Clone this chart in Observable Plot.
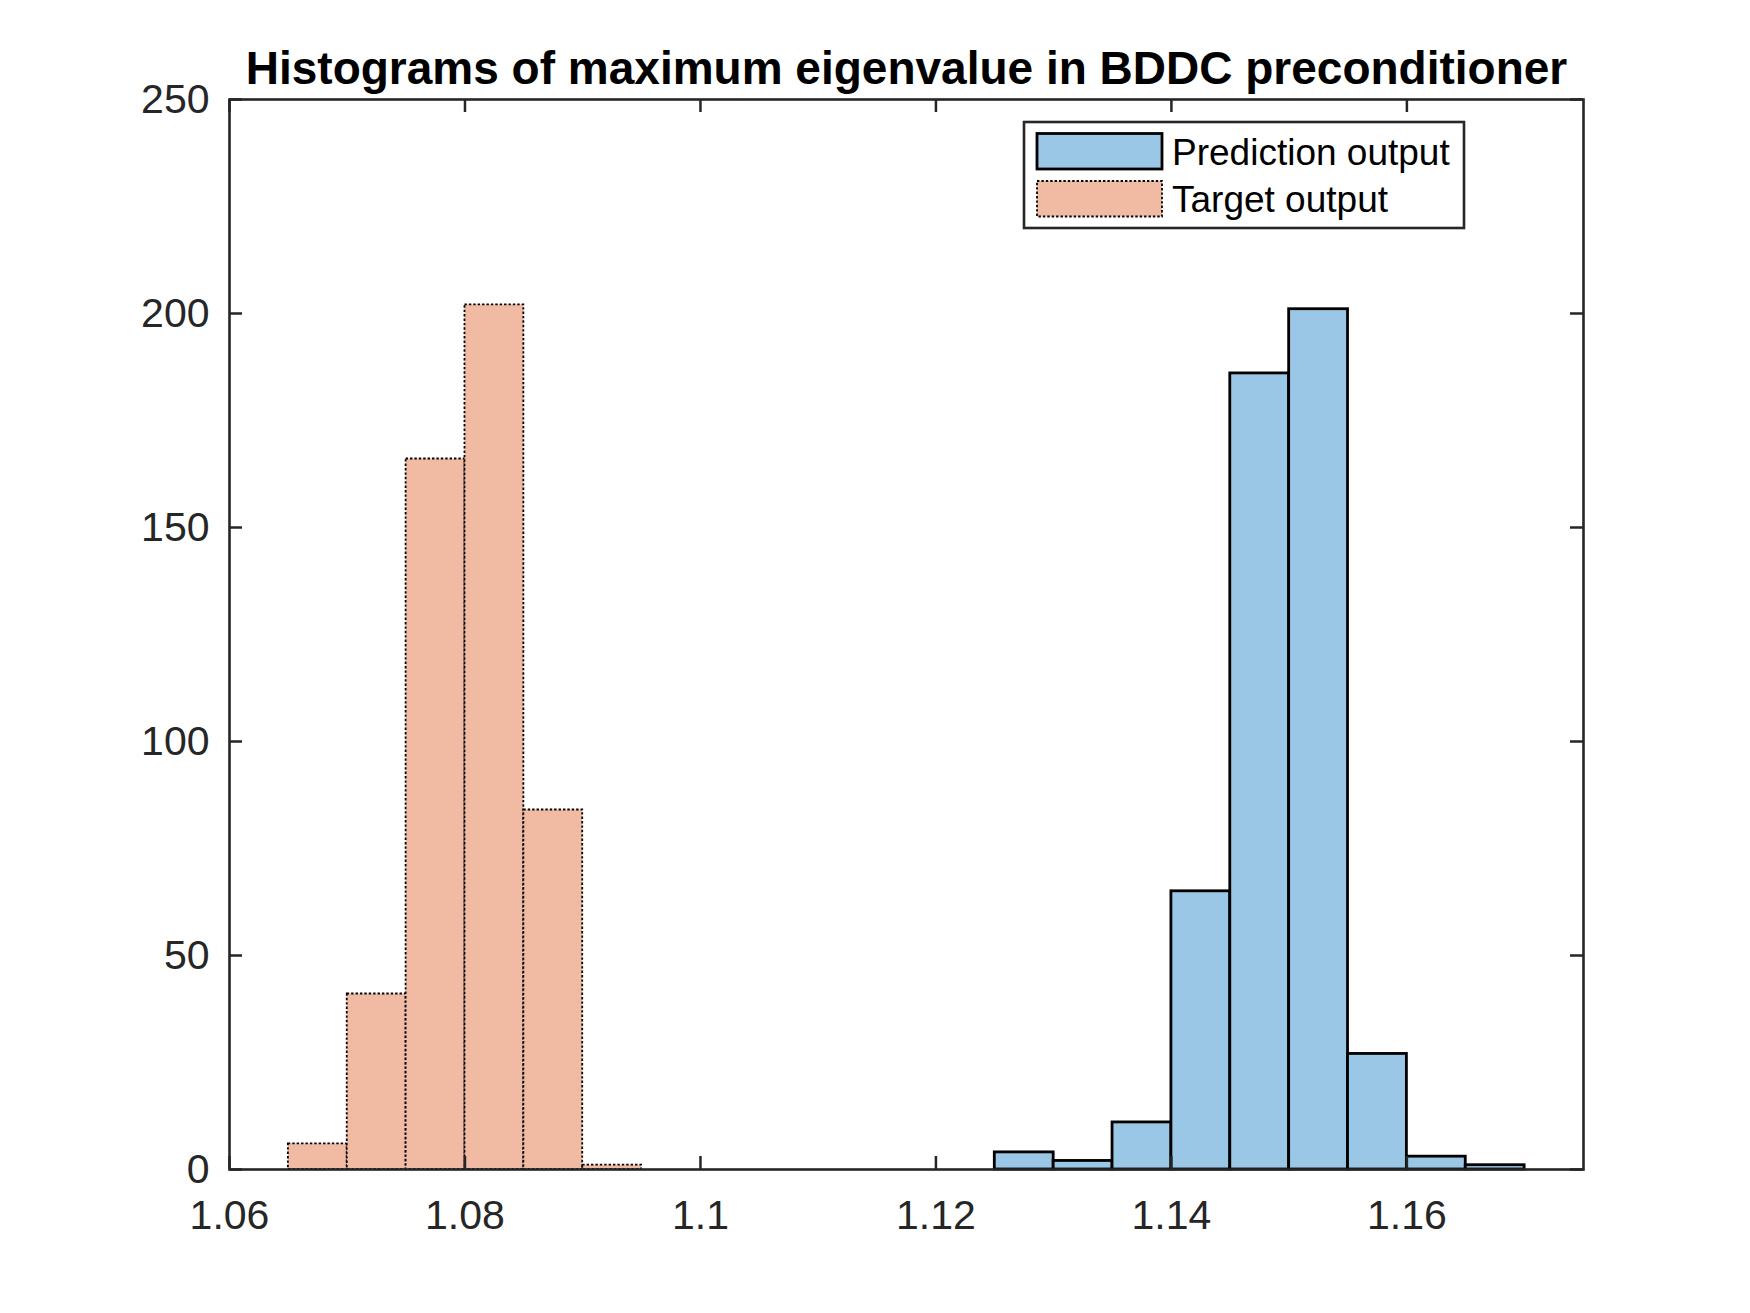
<!DOCTYPE html>
<html>
<head>
<meta charset="utf-8">
<script src="https://cdn.jsdelivr.net/npm/d3@7"></script>
<script src="https://cdn.jsdelivr.net/npm/@observablehq/plot@0.6"></script>
<style>
  html, body { margin: 0; padding: 0; background: #fff; }
  #wrap { position: relative; width: 1750px; height: 1313px; }
  #wrap svg { position: absolute; left: 0; top: 0; }
</style>
</head>
<body>
<div id="wrap"></div>
<script>
// ---- data ----
const titleText = "Histograms of maximum eigenvalue in BDDC preconditioner";
const seriesNames = ["Prediction output", "Target output"];
const predBinStarts = [1.125, 1.130, 1.135, 1.140, 1.145, 1.150, 1.155, 1.160, 1.165];
const predCounts    = [4, 2, 11, 65, 186, 201, 27, 3, 1];
const targetBinStarts = [1.065, 1.070, 1.075, 1.080, 1.085, 1.090];
const targetCounts    = [6, 41, 166, 202, 84, 1];
const binWidth = 0.005;
const xTicks = [1.06, 1.08, 1.10, 1.12, 1.14, 1.16];
const xTickLabels = ["1.06", "1.08", "1.1", "1.12", "1.14", "1.16"];
const yTicks = [0, 50, 100, 150, 200, 250];
const xDomain = [1.06, 1.175];
const yDomain = [0, 250];

// ---- styles ----
const blue = "#99C7E5";
const orange = "#F0BAA3";
const axisColor = "#262626";
const font = "'Liberation Sans', Arial, Helvetica, sans-serif";

const W = 1750, H = 1313;
const mL = 229, mR = 167, mT = 99, mB = 144;
const plotW = W - mL - mR, plotH = H - mT - mB;
const tickLen = 13;

const predRows = predBinStarts.map((s, i) => ({x1: s, x2: s + binWidth, y: predCounts[i]}));
const targetRows = targetBinStarts.map((s, i) => ({x1: s, x2: s + binWidth, y: targetCounts[i]}));

const chart = Plot.plot({
  width: W,
  height: H,
  marginLeft: mL, marginRight: mR, marginTop: mT, marginBottom: mB,
  style: {fontFamily: font, background: "#fff", color: axisColor},
  x: {domain: xDomain},
  y: {domain: yDomain},
  marks: [
    Plot.rectY(predRows, {x1: "x1", x2: "x2", y: "y", fill: blue, stroke: "#000", strokeWidth: 2.8}),
    Plot.rectY(targetRows, {x1: "x1", x2: "x2", y: "y", fill: orange, stroke: "#000", strokeWidth: 1.8, strokeDasharray: "2.4,2"}),
    // inward tick marks, all four sides
    Plot.tickX(xTicks, {x: d => d, insetTop: plotH - tickLen, stroke: axisColor, strokeWidth: 2.5}),
    Plot.tickX(xTicks, {x: d => d, insetBottom: plotH - tickLen, stroke: axisColor, strokeWidth: 2.5}),
    Plot.tickY(yTicks, {y: d => d, insetRight: plotW - tickLen, stroke: axisColor, strokeWidth: 2.5}),
    Plot.tickY(yTicks, {y: d => d, insetLeft: plotW - tickLen, stroke: axisColor, strokeWidth: 2.5}),
    Plot.frame({stroke: axisColor, strokeWidth: 2.6}),
    Plot.axisX({ticks: xTicks, tickSize: 0, tickPadding: 30, fontSize: 41, fill: axisColor,
      tickFormat: d => xTickLabels[xTicks.indexOf(d)], label: null}),
    Plot.axisY({ticks: yTicks, tickSize: 0, tickPadding: 20, fontSize: 41, fill: axisColor,
      tickFormat: d => String(d), label: null}),
    Plot.text([titleText], {text: d => d, frameAnchor: "top", lineAnchor: "bottom", dy: -16,
      fontSize: 46, fontWeight: "bold", fill: "#000"})
  ]
});
document.getElementById("wrap").appendChild(chart);

// ---- legend (overlay) ----
const leg = d3.select("#wrap").append("svg")
  .attr("width", W).attr("height", H)
  .style("font-family", font);
const lx = 1024, ly = 122, lw = 440, lh = 106;
leg.append("rect").attr("x", lx).attr("y", ly).attr("width", lw).attr("height", lh)
  .attr("fill", "#fff").attr("stroke", axisColor).attr("stroke-width", 2.6);
const entries = [
  {name: seriesNames[0], fill: blue, sw: 2.8, dash: null, y: 133.5, base: 165},
  {name: seriesNames[1], fill: orange, sw: 1.8, dash: "2.4,2", y: 181, base: 211.5}
];
entries.forEach(e => {
  leg.append("rect").attr("x", 1037).attr("y", e.y).attr("width", 125).attr("height", 35.5)
    .attr("fill", e.fill).attr("stroke", "#000").attr("stroke-width", e.sw)
    .attr("stroke-dasharray", e.dash);
  leg.append("text").attr("x", 1172).attr("y", e.base).attr("font-size", 37)
    .attr("fill", "#000").text(e.name);
});
</script>
</body>
</html>
